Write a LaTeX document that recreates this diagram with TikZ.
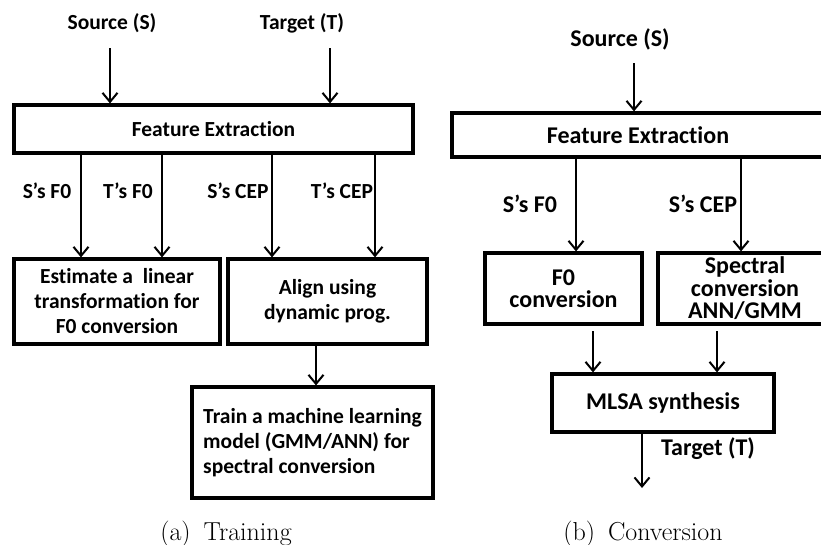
\documentclass[tikz,border=0pt]{standalone}
\usepackage{fontspec}
\newfontfamily\calibri{Carlito}
\usetikzlibrary{arrows.meta}
% \nolig splits a letter pair so the font's "ti" ligature is not formed
\newcommand\nolig{\kern0pt }
\begin{document}
\begin{tikzpicture}[x=1pt,y=-1pt,
  box/.style={draw, line width=3.2pt, inner sep=0pt, align=center},
  lbl/.style={inner sep=0pt, anchor=base},
  arr/.style={line width=2pt, -{Straight Barb[length=9pt,width=15pt]}},
  fa/.style={font=\calibri\bfseries\fontsize{21.5}{25}\selectfont},
  fb/.style={font=\calibri\bfseries\fontsize{24}{22.5}\selectfont},
  captext/.style={font=\fontsize{26}{30}\selectfont, inner sep=0pt, anchor=base}]
\useasboundingbox (0,0) rectangle (821,544);
\clip (0,0) rectangle (821,544);

% ---------- (a) Training ----------
\node[lbl,fa] (srcA) at (112,29.5) {Source (S)};
\node[lbl,fa] (tgtA) at (302,29.5) {Target (T)};
\node[box,fa,minimum width=399pt,minimum height=48pt] (feA) at (213.5,129) {Feature Extract\nolig ion};
\node[box,fa,minimum width=206pt,minimum height=85pt] (estA) at (117,301.5)
  {Est\nolig imate a~ linear\\transformat\nolig ion for\\F0 conversion};
\node[box,fa,minimum width=199pt,minimum height=85pt] (alA) at (327.5,301.5)
  {Align using\\dynamic prog.};
\node[box,fa,align=left,minimum width=241pt,minimum height=111pt] (trA) at (312.5,442.5)
  {Train a machine learning\\model (GMM/ANN) for\\spectral conversion};

\node[lbl,fa] (l1) at (47,198) {S’s F0};
\node[lbl,fa] (l2) at (128,198) {T’s F0};
\node[lbl,fa] (l3) at (238,198) {S’s CEP};
\node[lbl,fa] (l4) at (342,198) {T’s CEP};

\coordinate (sA) at (110,48);
\coordinate (tA) at (330,48);
\coordinate (c1) at (81,0);
\coordinate (c2) at (162,0);
\coordinate (c3) at (272,0);
\coordinate (c4) at (375,0);
\coordinate (c5) at (316,0);

\draw[arr] (sA) -- (sA |- feA.north);
\draw[arr] (tA) -- (tA |- feA.north);
\draw[arr] (c1 |- feA.south) -- (c1 |- estA.north);
\draw[arr] (c2 |- feA.south) -- (c2 |- estA.north);
\draw[arr] (c3 |- feA.south) -- (c3 |- alA.north);
\draw[arr] (c4 |- feA.south) -- (c4 |- alA.north);
\draw[arr] (c5 |- alA.south) -- (c5 |- trA.north);

\node[captext] (capA) at (226,540) {(a)\enspace Training};

% ---------- (b) Conversion ----------
\node[lbl,fb] (srcB) at (620,46.7) {Source (S)};
\node[box,fb,minimum width=372pt,minimum height=44pt] (feB) at (638,135) {Feature Extract\nolig ion};
\node[box,fb,minimum width=157pt,minimum height=71pt] (f0B) at (563.5,288.5) {F0\\conversion};
\node[box,fb,minimum width=174pt,minimum height=71pt] (spB) at (745,288.5) {Spectral\\conversion\\ANN/GMM};
\node[box,fb,minimum width=222pt,minimum height=58pt] (msB) at (663,403) {MLSA synthesis};
\node[lbl,fb] (tgtB) at (708,455) {Target (T)};

\node[lbl,fb] (m1) at (530,212) {S’s F0};
\node[lbl,fb] (m2) at (703,212) {S’s CEP};

\coordinate (sB) at (634,63);
\coordinate (e1) at (576,0);
\coordinate (e2) at (741,0);
\coordinate (d1) at (593,331);
\coordinate (d2) at (717,331);
\coordinate (oB) at (642,488);

\draw[arr] (sB) -- (sB |- feB.north);
\draw[arr] (e1 |- feB.south) -- (e1 |- f0B.north);
\draw[arr] (e2 |- feB.south) -- (e2 |- spB.north);
\draw[arr] (d1) -- (d1 |- msB.north);
\draw[arr] (d2) -- (d2 |- msB.north);
\draw[arr] (oB |- msB.south) -- (oB);

\node[captext] (capB) at (643,540) {(b)\enspace Conversion};
\end{tikzpicture}
\end{document}
